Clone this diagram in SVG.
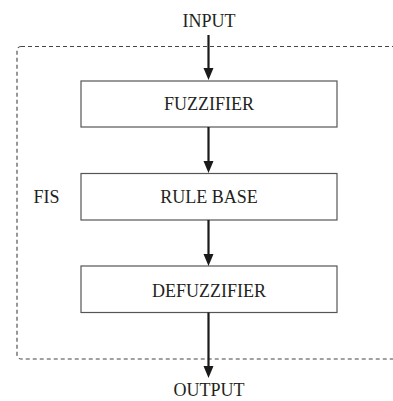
<svg xmlns="http://www.w3.org/2000/svg" width="393" height="401" viewBox="0 0 393 401">
<style>
.t{font-family:"Liberation Serif","Times New Roman",serif;font-size:18px;fill:#231f20;text-anchor:middle}
.box{fill:#fff;stroke:#555;stroke-width:1.2}
.arr{stroke:#1a1a1a;stroke-width:2.2;fill:none;marker-end:url(#ah)}
.frame{fill:none;stroke:#444;stroke-width:1.1;stroke-dasharray:4 3}
</style>
<defs>
<marker id="ah" markerUnits="userSpaceOnUse" markerWidth="12" markerHeight="10" refX="2" refY="5" orient="auto" overflow="visible">
<path d="M0,0 L12,5 L0,10 z" fill="#1a1a1a"/>
</marker>
</defs>
<rect id="fis-frame" class="frame" x="17" y="46.5" width="400" height="312.5" rx="4"/>
<text class="t" x="46.5" y="203">FIS</text>
<g id="input"><text class="t" x="209" y="27">INPUT</text></g>
<g id="fuzzifier"><rect class="box" x="81" y="81" width="256" height="46"/><text class="t" x="209" y="110">FUZZIFIER</text></g>
<g id="rulebase"><rect class="box" x="81" y="173.5" width="256" height="46.5"/><text class="t" x="209" y="203">RULE BASE</text></g>
<g id="defuzzifier"><rect class="box" x="81" y="266" width="256" height="46.5"/><text class="t" x="209" y="296.5">DEFUZZIFIER</text></g>
<g id="output"><text class="t" x="209" y="396">OUTPUT</text></g>
<g id="connectors">
<path class="arr" d="M208.5,35 V70"/>
<path class="arr" d="M208.5,127 V163"/>
<path class="arr" d="M208.5,220 V256"/>
<path class="arr" d="M208.5,312.5 V368"/>
</g>
</svg>
